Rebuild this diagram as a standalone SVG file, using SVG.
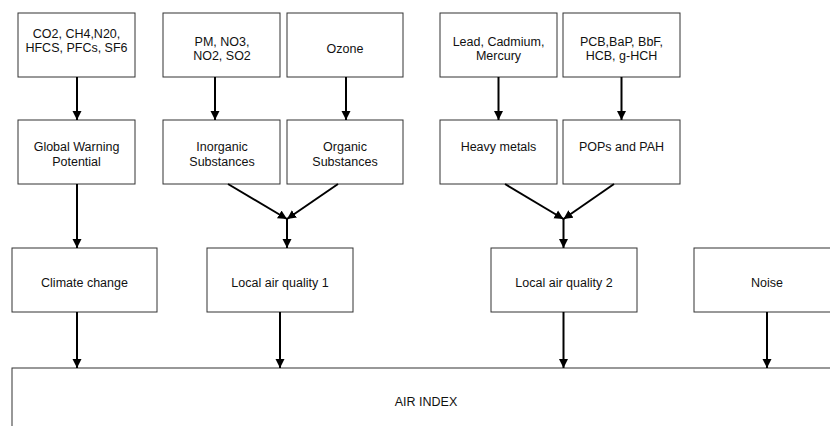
<svg xmlns="http://www.w3.org/2000/svg" width="830" height="426" viewBox="0 0 830 426">
<style>
.box{fill:#fff;stroke:#333;stroke-width:1}
.t{font-family:"Liberation Sans",Arial,sans-serif;font-size:12.5px;fill:#111;text-anchor:middle}
.c{stroke:#000;stroke-width:2;fill:none}
.a{marker-end:url(#arr)}
</style>
<defs>
<marker id="arr" markerUnits="userSpaceOnUse" markerWidth="10" markerHeight="10" viewBox="0 0 10 10" refX="9" refY="5" orient="auto">
<path d="M0,0.5 L9,5 L0,9.5 Z" fill="#000"/>
</marker>
</defs>
<rect width="830" height="426" fill="#fff"/>
<g id="n-airindex"><rect class="box" x="12" y="368" width="828" height="80"/><text class="t" x="426" y="406">AIR INDEX</text></g>
<g id="n-co2"><rect class="box" x="18" y="13" width="117" height="64"/><text class="t" x="76.5" y="38">CO2, CH4,N20,</text><text class="t" x="76.5" y="52">HFCS, PFCs, SF6</text></g>
<g id="n-pm"><rect class="box" x="163" y="13" width="117" height="64"/><text class="t" x="222" y="45.5">PM, NO3,</text><text class="t" x="222" y="60">NO2, SO2</text></g>
<g id="n-ozone"><rect class="box" x="287" y="13" width="116" height="64"/><text class="t" x="345" y="52.5">Ozone</text></g>
<g id="n-lead"><rect class="box" x="440" y="13" width="117" height="64"/><text class="t" x="498.5" y="45.5">Lead, Cadmium,</text><text class="t" x="498.5" y="60">Mercury</text></g>
<g id="n-pcb"><rect class="box" x="563" y="13" width="117" height="64"/><text class="t" x="621.5" y="45.5">PCB,BaP, BbF,</text><text class="t" x="621.5" y="60">HCB, g-HCH</text></g>
<g id="n-gwp"><rect class="box" x="18" y="120" width="117" height="64"/><text class="t" x="76.5" y="151">Global Warning</text><text class="t" x="76.5" y="166">Potential</text></g>
<g id="n-inorganic"><rect class="box" x="163" y="120" width="117" height="64"/><text class="t" x="222" y="151">Inorganic</text><text class="t" x="222" y="166">Substances</text></g>
<g id="n-organic"><rect class="box" x="287" y="120" width="116" height="64"/><text class="t" x="345" y="151">Organic</text><text class="t" x="345" y="166">Substances</text></g>
<g id="n-heavy"><rect class="box" x="440" y="120" width="117" height="64"/><text class="t" x="498.5" y="151">Heavy metals</text></g>
<g id="n-pops"><rect class="box" x="563" y="120" width="117" height="64"/><text class="t" x="621.5" y="151">POPs and PAH</text></g>
<g id="n-climate"><rect class="box" x="12" y="248" width="145" height="64"/><text class="t" x="84.5" y="287">Climate change</text></g>
<g id="n-laq1"><rect class="box" x="207" y="248" width="146" height="64"/><text class="t" x="280" y="287">Local air quality 1</text></g>
<g id="n-laq2"><rect class="box" x="491" y="248" width="146" height="64"/><text class="t" x="564" y="287">Local air quality 2</text></g>
<g id="n-noise"><rect class="box" x="694" y="248" width="146" height="64"/><text class="t" x="767" y="287">Noise</text></g>
<g id="connectors">
<line class="c a" x1="77" y1="77" x2="77" y2="120"/>
<line class="c a" x1="215" y1="77" x2="215" y2="120"/>
<line class="c a" x1="346" y1="77" x2="346" y2="120"/>
<line class="c a" x1="498.5" y1="77" x2="498.5" y2="120"/>
<line class="c a" x1="621.5" y1="77" x2="621.5" y2="120"/>
<line class="c a" x1="77" y1="184" x2="77" y2="248"/>
<line class="c a" x1="228" y1="184" x2="287" y2="219"/>
<line class="c a" x1="338" y1="184" x2="287" y2="219"/>
<line class="c a" x1="287" y1="218" x2="287" y2="248"/>
<line class="c a" x1="505" y1="184" x2="563.5" y2="219"/>
<line class="c a" x1="614" y1="184" x2="563.5" y2="219"/>
<line class="c a" x1="563.5" y1="218" x2="563.5" y2="248"/>
<line class="c a" x1="77" y1="312" x2="77" y2="368"/>
<line class="c a" x1="280" y1="312" x2="280" y2="368"/>
<line class="c a" x1="563.5" y1="312" x2="563.5" y2="368"/>
<line class="c a" x1="767" y1="312" x2="767" y2="368"/>
</g>
</svg>
